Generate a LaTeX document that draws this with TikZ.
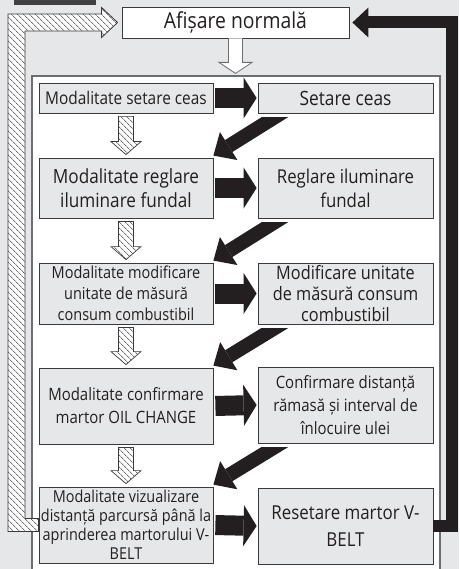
\documentclass[tikz,border=0pt]{standalone}
\usepackage{fontspec}
\setmainfont{Open Sans}[FakeStretch=0.88]
\usetikzlibrary{arrows.meta,calc,patterns.meta}
\definecolor{bg}{HTML}{E6E7E8}
\definecolor{boxfill}{HTML}{E6E7E8}
\definecolor{ink}{HTML}{231F20}
\definecolor{edge}{HTML}{3A3A3C}
\definecolor{framec}{HTML}{6D6E71}
\definecolor{darktab}{HTML}{414042}
\newcommand\setfs[2]{\fontsize{#1}{#2}\selectfont}
\newcommand\hatchdown[2]{%
  \filldraw[hatcharrow] ($(#1.south)+(-7.5,3)$) -- ($(#2.north)+(-7.5,-16)$) -- ($(#2.north)+(-15,-16)$) -- ($(#2.north)+(0,-3)$) -- ($(#2.north)+(15,-16)$) -- ($(#2.north)+(7.5,-16)$) -- ($(#1.south)+(7.5,3)$) -- cycle;}
\newcommand\diagarrow[2]{%
  \begin{scope}
  \clip ($(#1.south west)+(-300,4)$) rectangle ++(600,150);
  \draw[diagarr] ($(#1.south west)+(26.5,-2)$) -- ($(#2.north east)+(0,-2)$);
  \end{scope}}
\begin{document}
\begin{tikzpicture}[x=1pt,y=-1pt,
  stepbox/.style={draw=edge, line width=0.8pt, fill=boxfill, text=ink, align=center, inner sep=0pt},
  leftbox/.style={stepbox, minimum width=174pt},
  rightbox/.style={stepbox, minimum width=175pt},
  fatarr/.style={draw=ink, line width=20pt, shorten <=2pt, shorten >=1pt, -{Triangle[length=13pt,width=41pt,line width=0pt]}},
  diagarr/.style={draw=ink, line width=14pt, -{Triangle[length=18pt,width=33pt,line width=0pt]}},
  hatcharrow/.style={draw=edge, line width=0.7pt, preaction={fill=white}, pattern={Lines[angle=-45,distance=4pt,line width=0.5pt]}, pattern color=ink},
  hollowarr/.style={draw=framec, line width=0.8pt, fill=white}]
\useasboundingbox (0,0) rectangle (459,569);
\clip (0,0) rectangle (459,569);
\fill[bg] (0,0) rectangle (459,569);
\fill[darktab] (14,0) rectangle (96,5);
% inner frame
\filldraw[draw=framec, line width=1.5pt, fill=white] (32,600) -- (32,76) -- (440,76) -- (440,600);
% top box
\node[stepbox, fill=white, minimum width=227pt, minimum height=31pt, font=\setfs{22}{24}] (afis) at (235.5,22.5) {Afișare normală};
% left column
\node[leftbox, minimum height=30pt, font=\setfs{17.5}{21}] (l1) at (126,98) {Modalitate setare ceas};
\node[leftbox, minimum height=60pt, font=\setfs{19.5}{24}] (l2) at (126,188) {Modalitate reglare\\iluminare fundal};
\node[leftbox, minimum height=61pt, font=\setfs{16.5}{21}] (l3) at (126,293.5) {Modalitate modificare\\unitate de măsură\\consum combustibil};
\node[leftbox, minimum height=76pt, font=\setfs{17}{23}] (l4) at (126,406) {Modalitate confirmare\\martor OIL CHANGE};
\node[leftbox, minimum height=76pt, font=\setfs{16.4}{19}] (l5) at (126,525) {Modalitate vizualizare\\distanță parcursă până la\\aprinderea martorului V-\\BELT};
% right column
\node[rightbox, minimum height=30pt, font=\setfs{19.7}{22}] (r1) at (345.5,98) {Setare ceas};
\node[rightbox, minimum height=60pt, font=\setfs{19.1}{24}] (r2) at (345.5,188) {Reglare iluminare\\fundal};
\node[rightbox, minimum height=61pt, font=\setfs{18.5}{21}] (r3) at (345.5,293.5) {Modificare unitate\\de măsură consum\\combustibil};
\node[rightbox, minimum height=76pt, font=\setfs{17}{23}] (r4) at (345.5,405) {Confirmare distanță\\rămasă și interval de\\înlocuire ulei};
\node[rightbox, minimum height=76pt, font=\setfs{19.2}{27}] (r5) at (345.5,526) {Resetare martor V-\\BELT};
% top hollow arrow
\draw[hollowarr] ($(afis.south)+(-7,0)$) -- ($(afis.south)+(-7,24)$) -- ($(afis.south)+(-16.5,24)$) -- ($(afis.south)+(0,35)$) -- ($(afis.south)+(16.5,24)$) -- ($(afis.south)+(7,24)$) -- ($(afis.south)+(7,0)$);
% horizontal arrows
\draw[fatarr] (l1.east) -- (r1.west);
\draw[fatarr] (l2.east) -- (r2.west);
\draw[fatarr] (l3.east) -- (r3.west);
\draw[fatarr] (l4.east) -- (r4.west);
\draw[fatarr] (l5.east) -- (r5.west);
% diagonal arrows
\diagarrow{r1}{l2}
\diagarrow{r2}{l3}
\diagarrow{r3}{l4}
\diagarrow{r4}{l5}
% hatched down arrows
\hatchdown{l1}{l2}
\hatchdown{l2}{l3}
\hatchdown{l3}{l4}
\hatchdown{l4}{l5}
% return arrow right
\draw[draw=ink, line width=12pt, line join=miter, shorten >=3pt, -{Triangle[length=16pt,width=30pt,line width=0pt]}] (r5.east) -- ++(19,0) |- (afis.east);
% return arrow left (hatched)
\filldraw[hatcharrow, line width=0.8pt] let \p1=(l5.west), \p2=(afis.west) in
  (\x1,\y1+6.5pt) -- (25pt,\y1+6.5pt) -- (25pt,\y2-8.5pt) -- (\x2-20pt,\y2-8.5pt) -- (\x2-20pt,\y2-15pt) -- (\x2-4pt,\y2) -- (\x2-20pt,\y2+15pt) -- (\x2-20pt,\y2+8.5pt) -- (8pt,\y2+8.5pt) -- (8pt,\y1-6.5pt) -- (\x1,\y1-6.5pt) -- cycle;
\end{tikzpicture}
\end{document}
